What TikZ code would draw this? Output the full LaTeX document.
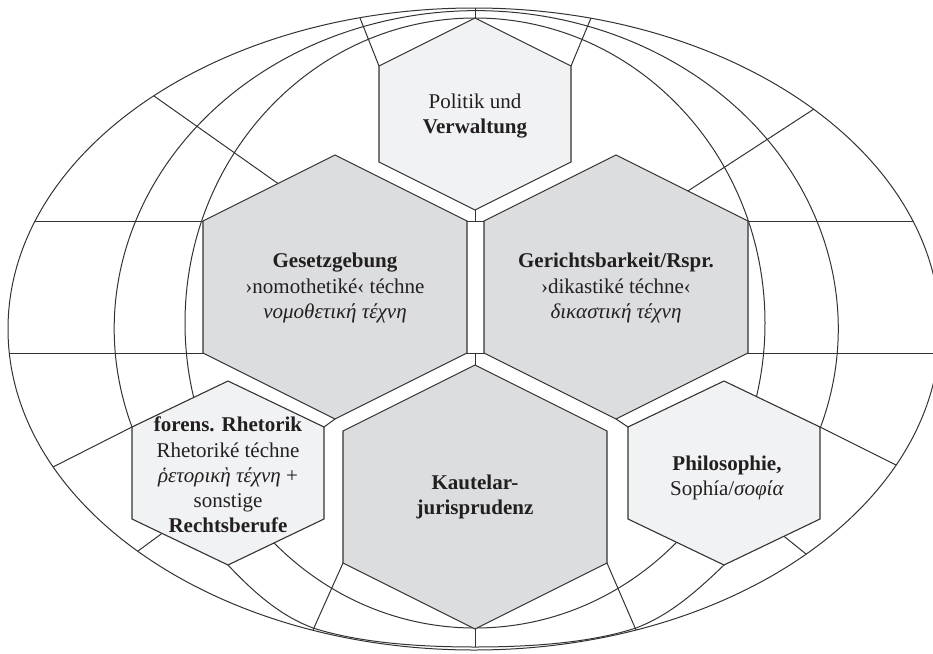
\documentclass[tikz,border=0pt]{standalone}
\usepackage{fontspec}
\setmainfont{Liberation Serif}
\usetikzlibrary{calc,backgrounds}
\definecolor{hexlight}{HTML}{F1F2F4}
\definecolor{hexdark}{HTML}{DCDDDF}
\definecolor{linegray}{HTML}{333333}
\definecolor{inkgray}{HTML}{231F20}

\tikzset{
  cell/.style={draw=linegray, line width=0.55pt},
  celllight/.style={cell, fill=hexlight},
  celldark/.style={cell, fill=hexdark},
  gridline/.style={draw=linegray, line width=0.5pt},
  celltext/.style={align=center, text=inkgray, inner sep=0pt, font=\fontsize{10.5}{12.6}\selectfont}
}

% name, style, centre x, centre y, half width, half height
\newcommand{\hexcell}[6]{
  \coordinate (#1-t) at (#3,{#4-#6});
  \coordinate (#1-ur) at ({#3+#5},{#4-#6/2});
  \coordinate (#1-lr) at ({#3+#5},{#4+#6/2});
  \coordinate (#1-b) at (#3,{#4+#6});
  \coordinate (#1-ll) at ({#3-#5},{#4+#6/2});
  \coordinate (#1-ul) at ({#3-#5},{#4-#6/2});
  \path[#2] (#1-t) -- (#1-ur) -- (#1-lr) -- (#1-b) -- (#1-ll) -- (#1-ul) -- cycle;
}

\begin{document}
\begin{tikzpicture}[x=0.5pt, y=-0.5pt]
\useasboundingbox (0,0) rectangle (933,654);

% cells
\hexcell{pol}{celllight}{475}{114}{96}{96}
\hexcell{ges}{celldark}{335}{287}{132}{132}
\hexcell{ger}{celldark}{616}{287}{132}{132}
\hexcell{kau}{celldark}{475}{497}{132}{132}
\hexcell{rhe}{celllight}{228}{473}{96}{92}
\hexcell{phi}{celllight}{724}{473}{96}{92}

\node[celltext] (politik) at (475,116) {Politik und\\\textbf{Verwaltung}};
\node[celltext] (gesetz) at (335,288) {\textbf{Gesetzgebung}\\›nomothetiké‹ téchne\\\textit{νομοθετική τέχνη}};
\node[celltext] (gericht) at (616,288) {\textbf{Gerichtsbarkeit/Rspr.}\\›dikastiké téchne‹\\\textit{δικαστική τέχνη}};
\node[celltext] (rhetorik) at (228,475) {\textbf{forens. Rhetorik}\\Rhetoriké téchne\\\textit{ῥετορικὴ τέχνη} +\\sonstige\\\textbf{Rechtsberufe}};
\node[celltext] (kautelar) at (475,497) {\textbf{Kautelar-}\\\textbf{jurisprudenz}};
\node[celltext] (philo) at (727,478) {\textbf{Philosophie,}\\Sophía/\textit{σοφία}};

% globe behind the cells
\begin{scope}[on background layer]
\clip (0,0) rectangle (933,654);
\draw[gridline] (474,329) ellipse [x radius=466, y radius=321];
\draw[gridline] (475,323) ellipse [x radius=290, y radius=305];
\draw[gridline] (rhe-ul) arc[start angle=162, end angle=378, x radius=362, y radius=318]
  -- (phi-b) .. controls (690,598) and (665,617) .. (636,628)
  .. controls (590,643) and (530,647) .. (475,647)
  .. controls (420,647) and (360,643) .. (313,628)
  .. controls (284,617) and (259,598) .. (rhe-b) -- cycle;
\draw[gridline] (35,221) -- (913,221);
\draw[gridline] (9,353) -- (940,353);
\draw[gridline] (475,8) -- (pol-t);
\draw[gridline] (pol-b) -- (475,221);
\draw[gridline] (475,353) -- (kau-t);
\draw[gridline] (kau-b) -- (475,647);
\draw[gridline] (360,18) -- (pol-ul);
\draw[gridline] (591,18) -- (pol-ur);
\draw[gridline] (154,96) -- ($(ges-t)!0.432!(ges-ul)$);
\draw[gridline] (814,109) -- ($(ger-t)!0.545!(ger-ur)$);
\draw[gridline] (53,467) -- (rhe-ul);
\draw[gridline] (896,465) -- (phi-ur);
\draw[gridline] (138,551) -- ($(rhe-ll)!0.3125!(rhe-b)$);
\draw[gridline] (806,554) -- ($(phi-b)!0.625!(phi-lr)$);
\draw[gridline] (313,630) -- (kau-ll);
\draw[gridline] (636,630) -- (kau-lr);
\draw[gridline] (ges-b) -- (rhe-ur);
\draw[gridline] (ger-b) -- (phi-ul);
\end{scope}
\end{tikzpicture}
\end{document}
